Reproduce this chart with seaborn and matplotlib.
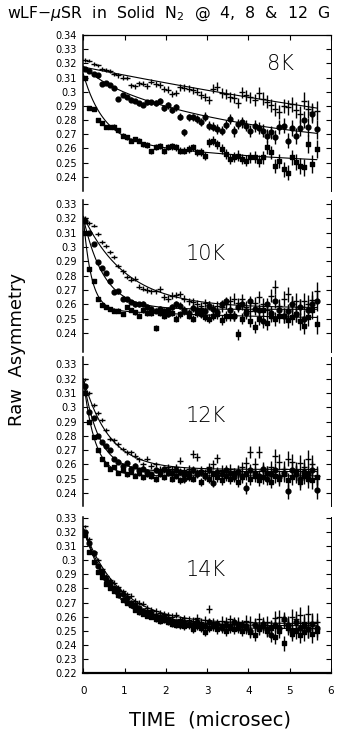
import numpy as np
import matplotlib
matplotlib.use("Agg")
import matplotlib.pyplot as plt
from matplotlib.ticker import FuncFormatter
import pandas as pd
import seaborn as sns

sns.set_style("ticks")
plt.rcParams["font.family"] = ["DejaVu Sans"]
plt.rcParams["mathtext.fontset"] = "dejavusans"
plt.rcParams["text.color"] = "black"
plt.rcParams["xtick.color"] = "black"
plt.rcParams["ytick.color"] = "black"
plt.rcParams["axes.edgecolor"] = "black"

# ---- data -----------------------------------------------------------------
# time bins (microsec), 0.1 us wide
time_us = np.round(0.05 + 0.1 * np.arange(57), 2)

# statistical error of one bin (grows with time as muons decay)
asym_err = [0.0012, 0.0012, 0.0013, 0.0013, 0.0013, 0.0014, 0.0014, 0.0015, 0.0015, 0.0016,
            0.0016, 0.0017, 0.0017, 0.0018, 0.0018, 0.0019, 0.0019, 0.0020, 0.0021, 0.0021,
            0.0022, 0.0023, 0.0023, 0.0024, 0.0025, 0.0026, 0.0026, 0.0027, 0.0028, 0.0029,
            0.0030, 0.0031, 0.0032, 0.0033, 0.0034, 0.0035, 0.0036, 0.0037, 0.0038, 0.0040,
            0.0041, 0.0042, 0.0043, 0.0045, 0.0046, 0.0047, 0.0049, 0.0050, 0.0052, 0.0053,
            0.0055, 0.0057, 0.0058, 0.0060, 0.0062, 0.0064, 0.0066]

temperatures = ["8K", "10K", "12K", "14K"]
fields = ["12 G", "8 G", "4 G"]

# raw asymmetry, 8 K
a8_12G = [0.3225, 0.3220, 0.3197, 0.3185, 0.3160, 0.3150, 0.3143, 0.3126, 0.3115, 0.3100,
          0.3098, 0.3044, 0.3037, 0.3060, 0.3055, 0.3040, 0.3072, 0.3055, 0.3048, 0.3020,
          0.3015, 0.2985, 0.2990, 0.3030, 0.3027, 0.3022, 0.3010, 0.3001, 0.2980, 0.2961,
          0.2942, 0.3020, 0.3035, 0.2990, 0.2985, 0.2965, 0.2955, 0.2919, 0.2997, 0.2975,
          0.2960, 0.2940, 0.2990, 0.2950, 0.2930, 0.2905, 0.2880, 0.2855, 0.2900, 0.2890,
          0.2910, 0.2870, 0.2840, 0.2938, 0.2880, 0.2860, 0.2867]
a8_8G = [0.3162, 0.3143, 0.3122, 0.3115, 0.3056, 0.3060, 0.3050, 0.3027, 0.2950, 0.2978,
         0.2962, 0.2943, 0.2934, 0.2920, 0.2909, 0.2926, 0.2926, 0.2920, 0.2938, 0.2886,
         0.2903, 0.2872, 0.2890, 0.2825, 0.2714, 0.2820, 0.2820, 0.2808, 0.2785, 0.2825,
         0.2761, 0.2754, 0.2737, 0.2725, 0.2768, 0.2808, 0.2720, 0.2772, 0.2785, 0.2761,
         0.2725, 0.2761, 0.2744, 0.2725, 0.2690, 0.2714, 0.2678, 0.2749, 0.2760, 0.2655,
         0.2743, 0.2690, 0.2743, 0.2802, 0.2750, 0.2844, 0.2735]
a8_4G = [0.3098, 0.2886, 0.2879, 0.2800, 0.2777, 0.2754, 0.2750, 0.2754, 0.2730, 0.2690,
         0.2678, 0.2655, 0.2667, 0.2655, 0.2631, 0.2624, 0.2579, 0.2608, 0.2620, 0.2584,
         0.2608, 0.2615, 0.2608, 0.2584, 0.2584, 0.2596, 0.2608, 0.2572, 0.2572, 0.2549,
         0.2643, 0.2655, 0.2631, 0.2596, 0.2561, 0.2525, 0.2537, 0.2549, 0.2525, 0.2513,
         0.2537, 0.2537, 0.2513, 0.2537, 0.2608, 0.2572, 0.2478, 0.2513, 0.2454, 0.2430,
         0.2537, 0.2502, 0.2478, 0.2466, 0.2631, 0.2490, 0.2596]

# raw asymmetry, 10 K
a10_12G = [0.3204, 0.3168, 0.3150, 0.3090, 0.3036, 0.3010, 0.2964, 0.2930, 0.2868, 0.2830,
           0.2790, 0.2772, 0.2780, 0.2724, 0.2710, 0.2700, 0.2690, 0.2690, 0.2705, 0.2650,
           0.2640, 0.2660, 0.2665, 0.2672, 0.2640, 0.2620, 0.2615, 0.2600, 0.2585, 0.2610,
           0.2595, 0.2560, 0.2590, 0.2580, 0.2600, 0.2620, 0.2640, 0.2610, 0.2635, 0.2580,
           0.2555, 0.2610, 0.2650, 0.2600, 0.2560, 0.2660, 0.2720, 0.2590, 0.2640, 0.2670,
           0.2600, 0.2620, 0.2580, 0.2620, 0.2600, 0.2630, 0.2690]
a10_8G = [0.3180, 0.3096, 0.3024, 0.2892, 0.2856, 0.2820, 0.2765, 0.2688, 0.2690, 0.2640,
          0.2635, 0.2616, 0.2600, 0.2600, 0.2605, 0.2580, 0.2570, 0.2556, 0.2570, 0.2556,
          0.2532, 0.2580, 0.2600, 0.2590, 0.2560, 0.2540, 0.2575, 0.2560, 0.2530, 0.2555,
          0.2590, 0.2570, 0.2545, 0.2600, 0.2620, 0.2560, 0.2520, 0.2580, 0.2600, 0.2540,
          0.2620, 0.2570, 0.2560, 0.2480, 0.2600, 0.2540, 0.2620, 0.2560, 0.2520, 0.2550,
          0.2600, 0.2530, 0.2580, 0.2500, 0.2560, 0.2600, 0.2620]
a10_4G = [0.3096, 0.2844, 0.2760, 0.2640, 0.2592, 0.2580, 0.2570, 0.2556, 0.2556, 0.2532,
          0.2580, 0.2560, 0.2545, 0.2520, 0.2560, 0.2540, 0.2540, 0.2436, 0.2540, 0.2520,
          0.2560, 0.2540, 0.2500, 0.2530, 0.2550, 0.2520, 0.2500, 0.2540, 0.2560, 0.2510,
          0.2500, 0.2520, 0.2530, 0.2490, 0.2520, 0.2520, 0.2520, 0.2390, 0.2500, 0.2550,
          0.2480, 0.2440, 0.2500, 0.2560, 0.2470, 0.2520, 0.2500, 0.2520, 0.2520, 0.2490,
          0.2510, 0.2530, 0.2480, 0.2450, 0.2510, 0.2560, 0.2460]

# raw asymmetry, 12 K
a12_12G = [0.3195, 0.3100, 0.3017, 0.2958, 0.2910, 0.2839, 0.2780, 0.2768, 0.2740, 0.2708,
           0.2685, 0.2685, 0.2660, 0.2637, 0.2600, 0.2640, 0.2590, 0.2600, 0.2570, 0.2560,
           0.2580, 0.2565, 0.2580, 0.2625, 0.2560, 0.2570, 0.2673, 0.2650, 0.2560, 0.2540,
           0.2580, 0.2600, 0.2644, 0.2560, 0.2550, 0.2570, 0.2540, 0.2560, 0.2580, 0.2610,
           0.2685, 0.2600, 0.2685, 0.2560, 0.2540, 0.2580, 0.2660, 0.2620, 0.2570, 0.2640,
           0.2620, 0.2560, 0.2610, 0.2580, 0.2640, 0.2600, 0.2520]
a12_8G = [0.3147, 0.2970, 0.2922, 0.2800, 0.2760, 0.2732, 0.2700, 0.2640, 0.2620, 0.2590,
          0.2610, 0.2570, 0.2590, 0.2560, 0.2570, 0.2550, 0.2530, 0.2560, 0.2545, 0.2570,
          0.2555, 0.2540, 0.2560, 0.2550, 0.2495, 0.2540, 0.2560, 0.2530, 0.2550, 0.2520,
          0.2560, 0.2471, 0.2550, 0.2530, 0.2560, 0.2540, 0.2510, 0.2550, 0.2520, 0.2435,
          0.2560, 0.2540, 0.2520, 0.2570, 0.2500, 0.2530, 0.2560, 0.2510, 0.2540, 0.2412,
          0.2560, 0.2530, 0.2500, 0.2550, 0.2530, 0.2560, 0.2424]
a12_4G = [0.3100, 0.2900, 0.2790, 0.2700, 0.2640, 0.2600, 0.2566, 0.2580, 0.2540, 0.2560,
          0.2530, 0.2550, 0.2520, 0.2540, 0.2510, 0.2530, 0.2520, 0.2500, 0.2530, 0.2510,
          0.2540, 0.2500, 0.2520, 0.2490, 0.2530, 0.2510, 0.2500, 0.2540, 0.2480, 0.2520,
          0.2500, 0.2530, 0.2510, 0.2490, 0.2520, 0.2500, 0.2540, 0.2480, 0.2510, 0.2530,
          0.2500, 0.2520, 0.2490, 0.2510, 0.2540, 0.2480, 0.2520, 0.2500, 0.2530, 0.2490,
          0.2510, 0.2540, 0.2480, 0.2520, 0.2500, 0.2490, 0.2510]

# raw asymmetry, 14 K
a14_12G = [0.3240, 0.3150, 0.3058, 0.3000, 0.2935, 0.2888, 0.2860, 0.2842, 0.2810, 0.2783,
           0.2760, 0.2748, 0.2713, 0.2700, 0.2690, 0.2660, 0.2650, 0.2640, 0.2625, 0.2620,
           0.2610, 0.2600, 0.2610, 0.2580, 0.2590, 0.2575, 0.2570, 0.2590, 0.2560, 0.2575,
           0.2655, 0.2560, 0.2540, 0.2570, 0.2560, 0.2580, 0.2550, 0.2560, 0.2540, 0.2570,
           0.2560, 0.2550, 0.2580, 0.2540, 0.2560, 0.2530, 0.2590, 0.2600, 0.2570, 0.2550,
           0.2600, 0.2580, 0.2610, 0.2560, 0.2620, 0.2560, 0.2562]
a14_8G = [0.3203, 0.3120, 0.3050, 0.2960, 0.2915, 0.2870, 0.2840, 0.2800, 0.2790, 0.2760,
          0.2730, 0.2700, 0.2680, 0.2660, 0.2640, 0.2630, 0.2625, 0.2608, 0.2600, 0.2595,
          0.2585, 0.2570, 0.2560, 0.2538, 0.2560, 0.2550, 0.2540, 0.2560, 0.2540, 0.2530,
          0.2560, 0.2530, 0.2550, 0.2520, 0.2540, 0.2530, 0.2560, 0.2520, 0.2540, 0.2530,
          0.2500, 0.2540, 0.2520, 0.2550, 0.2510, 0.2468, 0.2540, 0.2520, 0.2580, 0.2540,
          0.2500, 0.2560, 0.2520, 0.2540, 0.2510, 0.2550, 0.2520]
a14_4G = [0.3180, 0.3058, 0.2990, 0.2915, 0.2880, 0.2830, 0.2800, 0.2780, 0.2750, 0.2720,
          0.2700, 0.2680, 0.2650, 0.2630, 0.2620, 0.2608, 0.2600, 0.2580, 0.2570, 0.2575,
          0.2560, 0.2550, 0.2540, 0.2560, 0.2530, 0.2540, 0.2510, 0.2530, 0.2520, 0.2492,
          0.2520, 0.2540, 0.2510, 0.2530, 0.2500, 0.2520, 0.2510, 0.2540, 0.2500, 0.2520,
          0.2490, 0.2468, 0.2510, 0.2530, 0.2500, 0.2520, 0.2457, 0.2500, 0.2410, 0.2520,
          0.2480, 0.2500, 0.2470, 0.2490, 0.2510, 0.2480, 0.2500]

# fitted relaxation: A(t) = base + amp1*exp(-rate1*t) + amp2*exp(-rate2*t)
fit_base = [[0.200, 0.258, 0.245], [0.2575, 0.2565, 0.249],
            [0.2565, 0.255, 0.252], [0.255, 0.2535, 0.2515]]
fit_amp1 = [[0.1174, 0.008, 0.0455], [0.064, 0.064, 0.0645],
            [0.0635, 0.065, 0.068], [0.068, 0.069, 0.071]]
fit_rate1 = [[0.05, 2.0, 2.1], [0.95, 2.0, 5.2],
             [1.6, 2.6, 3.6], [1.15, 1.25, 1.35]]
fit_amp2 = [[0.0, 0.052, 0.022], [0.0, 0.0, 0.0075],
            [0.0, 0.0, 0.0], [0.0, 0.0, 0.0]]
fit_rate2 = [[0.0, 0.25, 0.2], [0.0, 0.0, 0.25],
             [0.0, 0.0, 0.0], [0.0, 0.0, 0.0]]

yticks = [[0.24, 0.25, 0.26, 0.27, 0.28, 0.29, 0.30, 0.31, 0.32, 0.33, 0.34],
          [0.24, 0.25, 0.26, 0.27, 0.28, 0.29, 0.30, 0.31, 0.32, 0.33],
          [0.24, 0.25, 0.26, 0.27, 0.28, 0.29, 0.30, 0.31, 0.32, 0.33],
          [0.22, 0.23, 0.24, 0.25, 0.26, 0.27, 0.28, 0.29, 0.30, 0.31, 0.32, 0.33]]
ylims = [(0.23, 0.34), (0.2267, 0.3328), (0.2309, 0.3352), (0.22, 0.3307)]
xticks = [0, 1, 2, 3, 4, 5, 6]

series = [[a8_12G, a8_8G, a8_4G], [a10_12G, a10_8G, a10_4G],
          [a12_12G, a12_8G, a12_4G], [a14_12G, a14_8G, a14_4G]]

rows = []
for temp, group in zip(temperatures, series):
    for field, vals in zip(fields, group):
        for t, a, e in zip(time_us, vals, asym_err):
            rows.append((temp, field, t, a, e))
df = pd.DataFrame(rows, columns=["temp", "field", "time", "asym", "err"])

# ---- figure ---------------------------------------------------------------
W, H = 346, 745
fig = plt.figure(figsize=(W / 100, H / 100), dpi=100)
fig.patch.set_facecolor("white")

# panel boxes in pixels: (top, bottom)
boxes = [(35, 191), (200, 352), (357, 506), (517, 673)]
x_left, x_right = 83.3, 331
label_pos = [(280, 64), (206, 254), (206, 416), (206, 570)]

markers = {"12 G": "_", "8 G": "o", "4 G": "s"}
msizes = {"12 G": 22, "8 G": 12, "4 G": 10}

t_fine = np.linspace(0.0, 5.66, 400)

for k, temp in enumerate(temperatures):
    top, bot = boxes[k]
    ax = fig.add_axes([x_left / W, 1 - bot / H, (x_right - x_left) / W, (bot - top) / H])
    sub = df[df["temp"] == temp]
    for j, field in enumerate(fields):
        d = sub[sub["field"] == field]
        ax.errorbar(d["time"], d["asym"], yerr=d["err"], fmt="none",
                    ecolor="black", elinewidth=1.0, capsize=0, zorder=2)
        fit = (fit_base[k][j] + fit_amp1[k][j] * np.exp(-fit_rate1[k][j] * t_fine)
               + fit_amp2[k][j] * np.exp(-fit_rate2[k][j] * t_fine))
        sns.lineplot(x=t_fine, y=fit, ax=ax, color="black", linewidth=0.8, zorder=3)
        sns.scatterplot(x=d["time"], y=d["asym"], marker=markers[field],
                        s=msizes[field], color="black", edgecolor="black",
                        linewidth=1.0, legend=False, ax=ax, zorder=4)

    ax.set_xlim(0, 6)
    ax.set_ylim(*ylims[k])
    ax.set_yticks(yticks[k])
    ax.yaxis.set_major_formatter(FuncFormatter(lambda v, p: f"{v:.2f}".rstrip("0")))
    ax.set_xticks(xticks)
    ax.set_xlabel("")
    ax.set_ylabel("")
    ax.tick_params(axis="y", direction="in", left=True, right=True, length=3.5,
                   width=0.8, labelsize=7, pad=4.5, colors="black")
    ax.spines["left"].set_linewidth(1.1)
    ax.spines["right"].set_linewidth(0.7)
    ax.spines["right"].set_visible(True)
    ax.spines["top"].set_visible(k == 0)
    ax.spines["bottom"].set_visible(k == 3)
    ax.spines["top"].set_linewidth(0.9)
    ax.spines["bottom"].set_linewidth(1.6)
    if k == 0:
        ax.tick_params(axis="x", direction="in", top=True, bottom=False,
                       labelbottom=False, labeltop=False, length=3.5, width=0.8)
    elif k == 3:
        ax.tick_params(axis="x", direction="in", top=False, bottom=True,
                       labelbottom=True, length=3.5, width=0.8, labelsize=7.5, pad=9.5)
    else:
        ax.tick_params(axis="x", top=False, bottom=False, labelbottom=False)
    ax.set_facecolor("none")
    lx, ly = label_pos[k]
    fig.text(lx / W, 1 - ly / H, temp, ha="center", va="center",
             fontsize=15, fontweight="light", color="black")

fig.text(169 / W, 1 - 14 / H,
         "wLF\u2212$\\mu$SR  in  Solid  N$_2$  @  4,  8  &  12  G",
         ha="center", va="center", fontsize=11.3, color="black")
fig.text(17 / W, 1 - 349 / H, "Raw  Asymmetry", rotation=90,
         ha="center", va="center", fontsize=13, color="black")
fig.text(210 / W, 1 - 720 / H, "TIME  (microsec)", ha="center", va="center",
         fontsize=14, color="black")

fig.savefig("out.png", dpi=100, facecolor="white")
